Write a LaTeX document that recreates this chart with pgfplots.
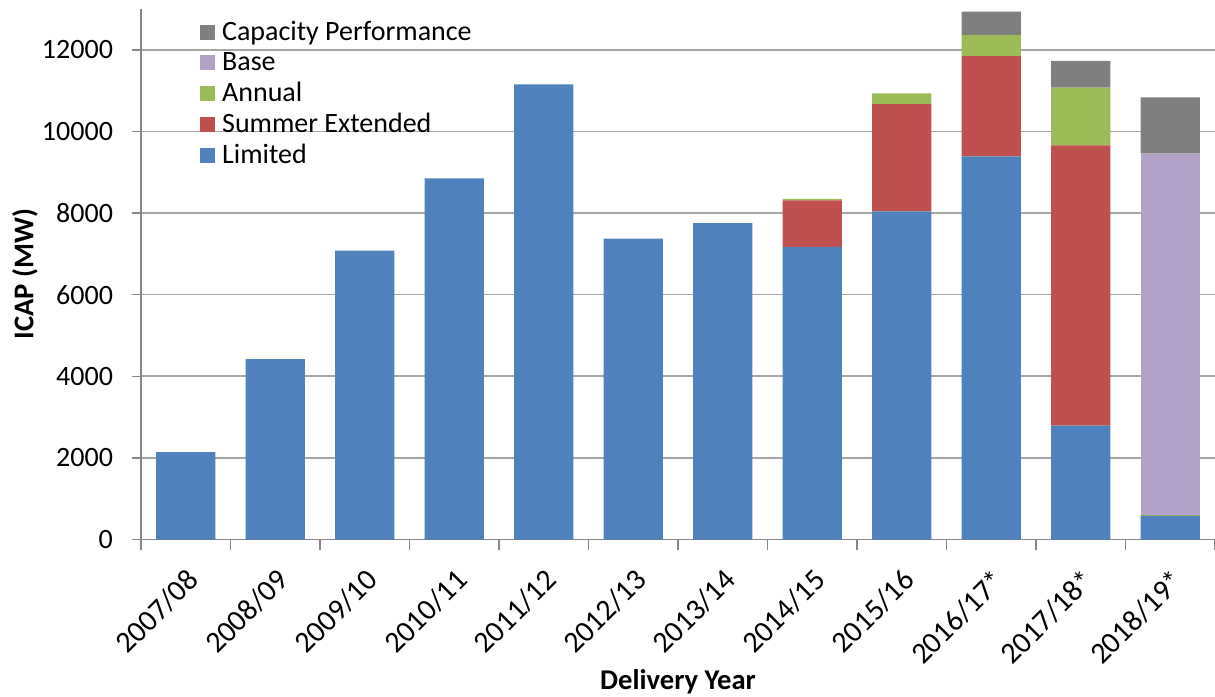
\documentclass[border=0pt]{standalone}
\usepackage{pgfplots}
\pgfplotsset{compat=1.18}
\usepackage{fontspec}
\setmainfont{Carlito}
\definecolor{cLim}{HTML}{4F81BD}
\definecolor{cSE}{HTML}{C0504D}
\definecolor{cAnn}{HTML}{9BBB59}
\definecolor{cBase}{HTML}{B2A2C7}
\definecolor{cCP}{HTML}{7F7F7F}
\definecolor{axgray}{HTML}{868686}
\definecolor{gridgray}{HTML}{A6A6A6}
\begin{document}
\begin{tikzpicture}
\begin{axis}[name=ax, scale only axis, width=537pt, height=265.25pt,
  ybar stacked, bar width=0.66,
  xmin=-0.5, xmax=11.5, ymin=0, ymax=13000,
  axis x line=bottom, axis y line=left,
  axis line style={-, draw=axgray, line width=0.7pt},
  xtick={0,...,11},
  xticklabels={2007/08,2008/09,2009/10,2010/11,2011/12,2012/13,2013/14,2014/15,2015/16,2016/17*,2017/18*,2018/19*},
  major x tick style={draw=none},
  minor xtick={-0.5,0.5,...,11.5},
  minor x tick style={draw=axgray, line width=0.7pt},
  minor tick length=5pt,
  ytick={0,2000,...,12000},
  scaled y ticks=false,
  major y tick style={draw=axgray, line width=0.7pt},
  major tick length=4.5pt,
  tick align=outside,
  ymajorgrids, grid style={draw=gridgray, line width=0.8pt},
  /pgf/number format/assume math mode=true,
  /pgf/number format/1000 sep={},
  tick label style={font=\fontsize{14}{16.8}\selectfont},
  yticklabel style={xshift=-6pt},
  xticklabel style={font=\fontsize{15}{18}\selectfont, rotate=45, anchor=north east, inner sep=1pt, yshift=-5.5pt, xshift=-5.5pt},
  xlabel={\textbf{Delivery Year}}, ylabel={\textbf{ICAP (MW)}},
  label style={font=\fontsize{14.3}{17}\selectfont},
  xlabel style={at={(axis description cs:0.5,-0.268)}, anchor=center},
  ylabel style={at={(axis description cs:-0.108,0.5)}, anchor=center},
  legend style={at={(0.0547,0.985)}, anchor=north west, draw=none, fill=none,
    font=\fontsize{14}{16.8}\selectfont, row sep=0.3pt, inner sep=0pt},
  legend cell align=left, reverse legend,
  legend image code/.code={\fill[#1] (0pt,-3.75pt) rectangle (7.5pt,3.75pt); \path (9pt,0pt);},
  every axis plot/.append style={draw=none},
]
\addplot[fill=cLim] coordinates {(0,2140) (1,4420) (2,7080) (3,8850) (4,11150) (5,7370) (6,7750) (7,7170) (8,8040) (9,9390) (10,2790) (11,580)};
\addplot[fill=cSE] coordinates {(0,0) (1,0) (2,0) (3,0) (4,0) (5,0) (6,0) (7,1140) (8,2630) (9,2455) (10,6870) (11,0)};
\addplot[fill=cAnn] coordinates {(0,0) (1,0) (2,0) (3,0) (4,0) (5,0) (6,0) (7,35) (8,260) (9,515) (10,1415) (11,20)};
\addplot[fill=cBase] coordinates {(0,0) (1,0) (2,0) (3,0) (4,0) (5,0) (6,0) (7,0) (8,0) (9,0) (10,0) (11,8855)};
\addplot[fill=cCP] coordinates {(0,0) (1,0) (2,0) (3,0) (4,0) (5,0) (6,0) (7,0) (8,0) (9,575) (10,655) (11,1380)};
\legend{Limited,Summer Extended,Annual,Base,Capacity Performance}
\end{axis}
\pgfresetboundingbox
\path[use as bounding box] ([xshift=-70.5pt,yshift=-78.25pt]ax.south west) rectangle ([yshift=4.5pt]ax.north east);
\end{tikzpicture}
\end{document}
